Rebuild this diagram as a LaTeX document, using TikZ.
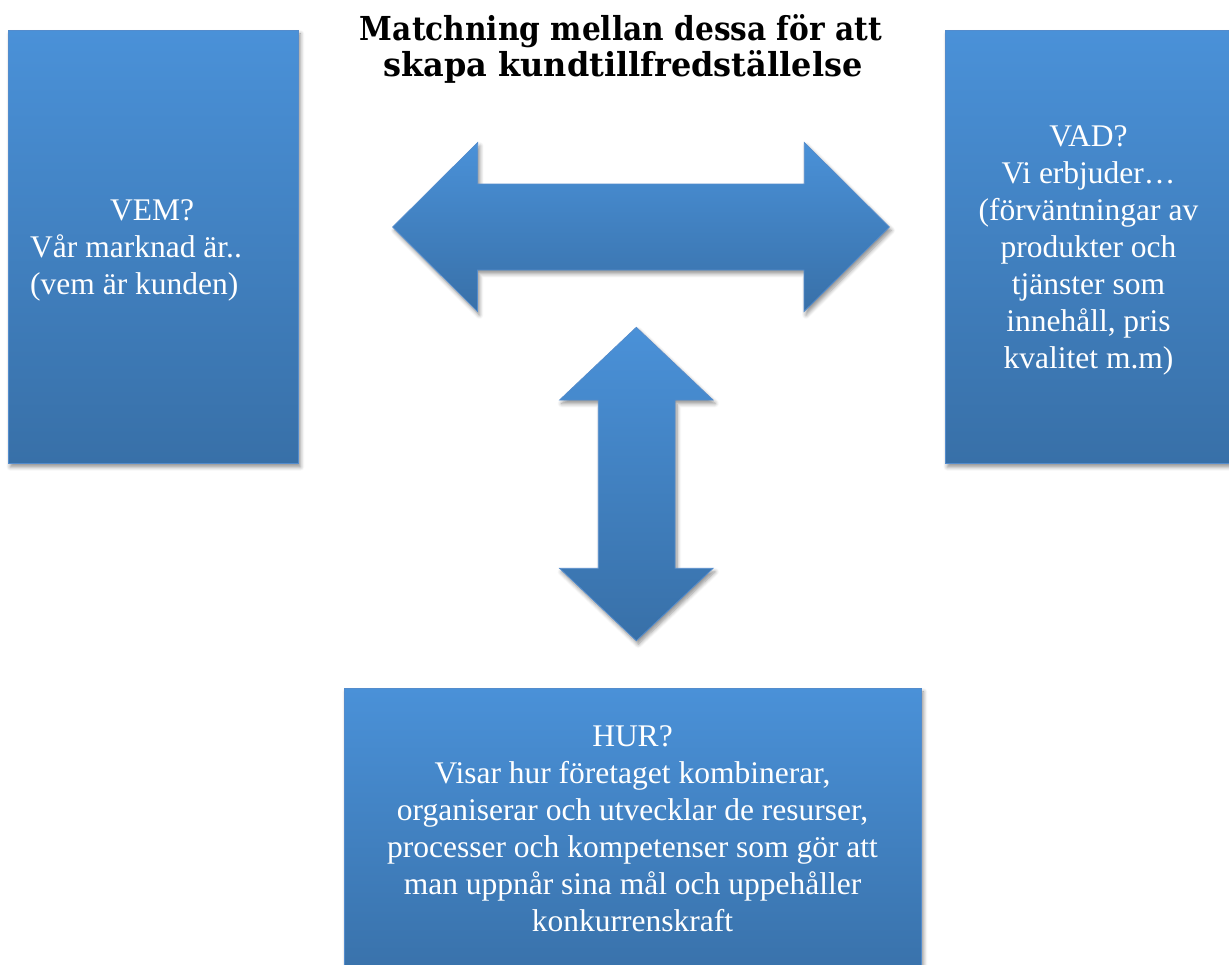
\documentclass[tikz,border=0pt]{standalone}
\usepackage{fontspec}
\usepackage{graphicx}
\setmainfont{Liberation Serif}
\newfontfamily\headfont{DejaVu Serif}
\usetikzlibrary{shadows.blur}
\definecolor{boxtop}{RGB}{74,145,216}
\definecolor{boxbot}{RGB}{56,112,168}
\definecolor{boxedge}{RGB}{84,140,204}
\begin{document}
\begin{tikzpicture}[x=1pt,y=-1pt,
  panel/.style={draw=boxedge, line width=0.8pt, top color=boxtop, bottom color=boxbot,
    blur shadow={shadow xshift=2pt, shadow yshift=-3.5pt, shadow blur steps=6,
      shadow blur radius=4pt, shadow opacity=45}},
  card/.style={panel, rectangle, inner sep=0pt, anchor=north west},
  body/.style={text=white, font=\fontsize{31.5}{37}\selectfont, inner sep=0pt},
  headline/.style={text=black, font=\headfont\bfseries\fontsize{33}{37}\selectfont, inner sep=0pt, anchor=base}]

\path[use as bounding box, clip] (0,0) rectangle (1229,964);

% title
\node[headline] (title1) at (621,40) {\resizebox{522pt}{\height}{Matchning mellan dessa för att}};
\node[headline] (title2) at (623,76.7) {\resizebox{479pt}{\height}{skapa kundtillfredställelse}};

% the three boxes
\node[card, minimum width=290pt, minimum height=433pt] (vem) at (8,30) {};
\node[card, minimum width=300pt, minimum height=433pt] (vad) at (945,30) {};
\node[card, minimum width=577pt, minimum height=300pt] (hur) at (344,688) {};

% horizontal double arrow
\coordinate (hl) at (392.7,227);
\coordinate (hr) at (889.3,227);
\path[panel] (hl) -- ++(85,-84.5) -- ++(0,41.5) -- ++(326.6,0) -- ++(0,-41.5)
  -- (hr) -- ++(-85.3,84.5) -- ++(0,-41.5) -- ++(-326.6,0) -- ++(0,41.5) -- cycle;

% vertical double arrow
\coordinate (vt) at (636.3,327.3);
\coordinate (vb) at (636.3,640.7);
\path[panel] (vt) -- ++(76.7,72.7) -- ++(-38,0) -- ++(0,168.3) -- ++(38,0)
  -- (vb) -- ++(-76.7,-72.4) -- ++(38.7,0) -- ++(0,-168.3) -- ++(-38.7,0) -- cycle;

% box texts (multi-line nodes are anchored at the baseline of their last line)
\node[body, anchor=base] (vemhead) at (152,220) {VEM?};
\node[body, anchor=base west] (vemline1) at (30,257) {Vår marknad är..};
\node[body, anchor=base west] (vemline2) at (30,294.5) {(vem är kunden)};

\node[body, align=center, anchor=base] (vadtext) at (1088.5,368.5)
  {VAD?\\Vi erbjuder…\\(förväntningar av\\produkter och\\tjänster som\\innehåll, pris\\kvalitet m.m)};

\node[body, align=center, anchor=base] (hurtext) at (632.5,931)
  {HUR?\\Visar hur företaget kombinerar,\\organiserar och utvecklar de resurser,\\processer och kompetenser som gör att\\man uppnår sina mål och uppehåller\\konkurrenskraft};
\end{tikzpicture}
\end{document}
